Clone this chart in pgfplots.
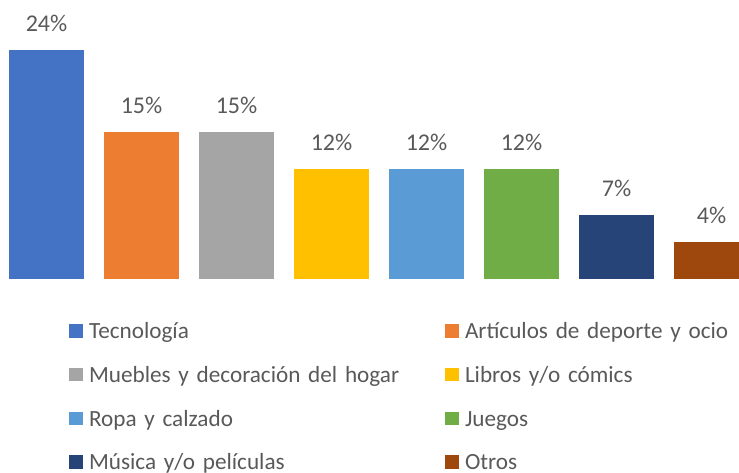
\documentclass[border=0pt]{standalone}
\usepackage{fontspec}
\setmainfont{Carlito}
\usepackage{pgfplots}
\pgfplotsset{compat=1.18}

\definecolor{c1}{HTML}{4472C4}
\definecolor{c2}{HTML}{ED7D31}
\definecolor{c3}{HTML}{A5A5A5}
\definecolor{c4}{HTML}{FFC000}
\definecolor{c5}{HTML}{5B9BD5}
\definecolor{c6}{HTML}{70AD47}
\definecolor{c7}{HTML}{264478}
\definecolor{c8}{HTML}{9E480E}
\definecolor{txt}{HTML}{595959}
\newcommand\fs{\fontsize{24}{28}\selectfont}
\newcommand\fl{\fontsize{23.2}{27}\selectfont}

\begin{document}
\begin{tikzpicture}[x=1pt,y=1pt]
\begin{axis}[
  at={(0pt,193.7pt)}, anchor=south west,
  width=739pt, height=279.3pt, scale only axis,
  xmin=-0.4895, xmax=7.2895, ymin=0, ymax=29.25,
  hide axis,
  ybar, bar width=75pt, bar shift=0pt,
  point meta=explicit symbolic,
  nodes near coords={\pgfplotspointmeta},
  every node near coord/.append style={font=\fs, text=txt, inner sep=0pt, yshift=18pt},
  legend columns=2,
  legend cell align=left,
  legend style={draw=none, fill=none, inner sep=0pt, outer sep=0pt,
    anchor=north west, at={(0.09337,-0.1565)},
    nodes={font=\fl, text=txt, inner sep=0pt, text height=15.5pt, text depth=0pt,
      text width=340pt, align=left},
    /tikz/every odd column/.append style={column sep=6.5pt},
    /tikz/every even column/.append style={column sep=16pt},
    row sep=28.3pt},
  leg/.style={draw=none, fill=#1, bar shift=0pt,
    legend image code/.code={\fill[##1] (0pt,-6.75pt) rectangle (13.5pt,6.75pt);}},
]
\addplot[leg=c1] coordinates {(0,24.0) [24\%]};
\addlegendentry{Tecnología}
\addplot[leg=c2] coordinates {(1,15.4) [15\%]};
\addlegendentry{Artículos de deporte y ocio}
\addplot[leg=c3] coordinates {(2,15.4) [15\%]};
\addlegendentry{Muebles y decoración del hogar}
\addplot[leg=c4] coordinates {(3,11.55) [12\%]};
\addlegendentry{Libros y/o cómics}
\addplot[leg=c5] coordinates {(4,11.55) [12\%]};
\addlegendentry{Ropa y calzado}
\addplot[leg=c6] coordinates {(5,11.55) [12\%]};
\addlegendentry{Juegos}
\addplot[leg=c7] coordinates {(6,6.73) [7\%]};
\addlegendentry{Música y/o películas}
\addplot[leg=c8] coordinates {(7,3.9) [4\%]};
\addlegendentry{Otros}
\end{axis}
\pgfresetboundingbox
\useasboundingbox (0,0) rectangle (739,473);
\end{tikzpicture}
\end{document}
